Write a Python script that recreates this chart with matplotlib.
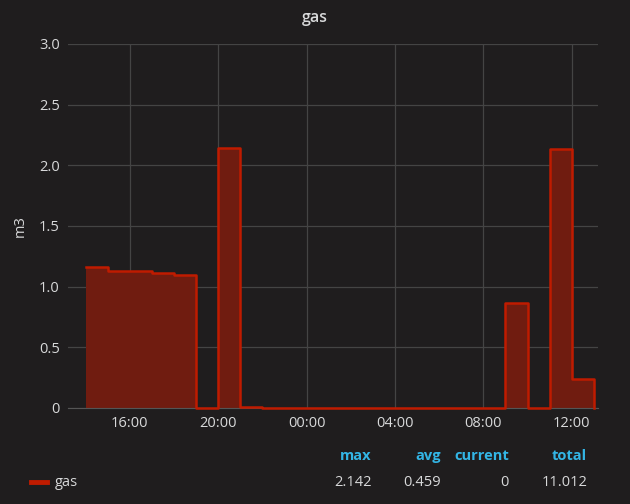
import pandas as pd
import matplotlib
matplotlib.use("Agg")
import matplotlib.pyplot as plt
import matplotlib.dates as mdates

# hourly gas usage (m3), 24 points starting 14:00
start = "2019-01-01 14:00"
gas = [1.16, 1.13, 1.13, 1.11, 1.095, 0.0, 2.142, 0.01,
       0.0, 0.0, 0.0, 0.0, 0.0, 0.0, 0.0, 0.0, 0.0, 0.0, 0.0,
       0.865, 0.0, 2.135, 0.235, 0.0]
legend_cols = ["max", "avg", "current", "total"]
legend_vals = ["2.142", "0.459", "0", "11.012"]
yticks = [0, 0.5, 1.0, 1.5, 2.0, 2.5, 3.0]
ytick_labels = ["0", "0.5", "1.0", "1.5", "2.0", "2.5", "3.0"]

times = pd.date_range(start, periods=len(gas), freq="h")

bg = "#1f1d1e"
text_col = "#d8d9da"
red = "#bf1b00"
fill = "#701c10"
grid = "#444444"

plt.rcParams["font.family"] = ["Open Sans", "DejaVu Sans"]

fig = plt.figure(figsize=(6.3, 5.04), dpi=100, facecolor=bg)
ax = fig.add_axes([0.108, 0.1905, 0.841, 0.7222], facecolor=bg)

ax.fill_between(times, gas, step="post", color=fill, linewidth=0)
ax.step(times, gas, where="post", color=red, linewidth=1.8,
        clip_on=False, zorder=3)

x0 = times[0] - pd.Timedelta(minutes=48)
x1 = times[-1] + pd.Timedelta(minutes=11)
ax.set_xlim(x0, x1)
ax.set_ylim(0, 3.0)
ax.set_yticks(yticks)
ax.set_yticklabels(ytick_labels)

ax.xaxis.set_major_locator(mdates.HourLocator(byhour=[0, 4, 8, 12, 16, 20]))
ax.xaxis.set_major_formatter(mdates.DateFormatter("%H:%M"))

ax.grid(True, color=grid, linewidth=0.9)
ax.set_axisbelow(True)
for s in ["top", "right", "left"]:
    ax.spines[s].set_visible(False)
ax.spines["bottom"].set_color("#555555")
ax.tick_params(colors=text_col, labelsize=10.5, length=0, pad=6)

ax.set_ylabel("m3", color=text_col, fontsize=10.5, labelpad=8)
fig.text(0.5, 0.964, "gas", color=text_col, fontsize=11.5, fontweight="semibold",
         ha="center", va="center")

# legend table
col_x = [0.590, 0.700, 0.808, 0.932]
for x, name, val in zip(col_x, legend_cols, legend_vals):
    fig.text(x, 0.095, name, color="#33b5e5", fontsize=10.5, fontweight="bold",
             ha="right", va="center")
    fig.text(x, 0.043, val, color=text_col, fontsize=10.5, ha="right", va="center")
fig.add_artist(plt.Line2D([0.049, 0.075], [0.043, 0.043], color=red, linewidth=3.5,
                          transform=fig.transFigure))
fig.text(0.087, 0.043, "gas", color=text_col, fontsize=10.5, ha="left", va="center")

fig.savefig("out.png", dpi=100, facecolor=bg)
